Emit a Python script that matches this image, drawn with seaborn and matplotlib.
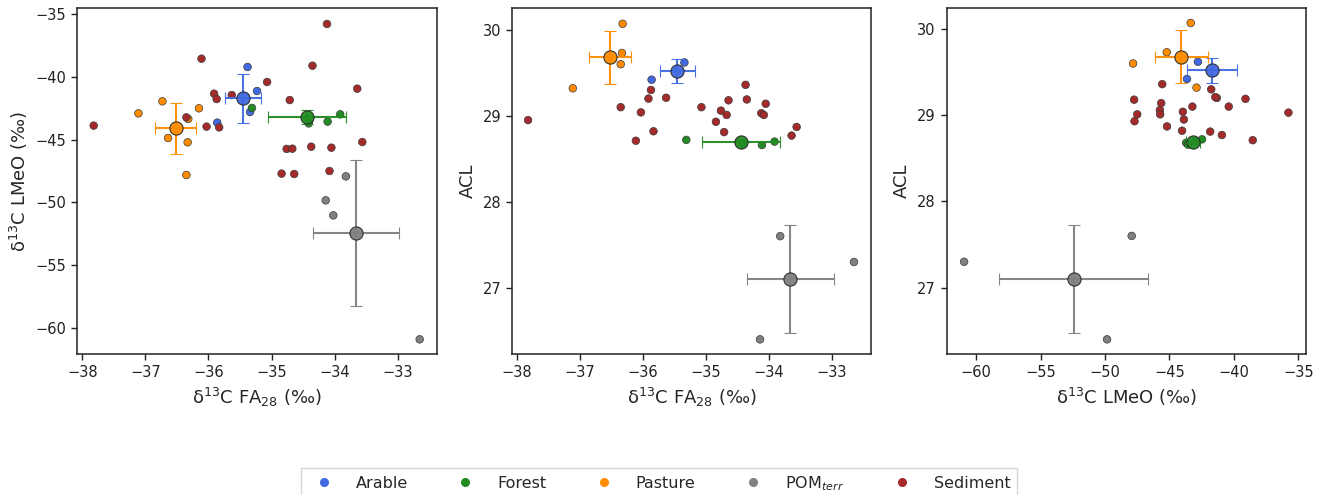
import numpy as np
import pandas as pd
import matplotlib
matplotlib.use("Agg")
import matplotlib.pyplot as plt
from matplotlib.lines import Line2D
import seaborn as sns

nan = np.nan

# ---------------- data ----------------
groups = ["Arable", "Forest", "Pasture", "POM$_{terr}$", "Sediment"]
colors = ["#4169E1", "#228B22", "#FF8C00", "#808080", "#A52A2A"]

arable_fa = [-35.38, -35.23, -35.86, -35.34]
arable_lmeo = [-39.20, -41.12, -43.64, -42.79]
arable_acl = [nan, nan, 29.42, 29.62]

forest_fa = [-35.31, -34.41, -34.11, -33.91]
forest_lmeo = [-42.47, -43.70, -43.56, -42.98]
forest_acl = [28.72, 28.68, 28.66, 28.70]

pasture_fa = [-36.73, -37.11, -36.15, -36.32, -36.64, -36.33, -36.35]
pasture_lmeo = [-41.94, -42.90, -42.50, -43.35, -44.87, -45.21, -47.82]
pasture_acl = [nan, 29.32, nan, 30.07, nan, 29.73, 29.60]

pom_fa = [-33.82, -34.14, -34.02, -32.65]
pom_lmeo = [-47.93, -49.84, -51.04, -60.93]
pom_acl = [27.60, 26.40, nan, 27.30]

sediment_fa = [-37.82, -36.35, -36.11, -36.03, -35.91, -35.87, -35.83, -35.63,
               -35.07, -34.84, -34.76, -34.71, -34.67, -34.64, -34.37, -34.35,
               -34.12, -34.08, -34.05, -33.64, -33.56]
sediment_lmeo = [-43.88, -43.22, -38.54, -43.96, -41.33, -41.76, -44.02, -41.44,
                 -40.40, -47.71, -45.74, -41.84, -45.72, -47.74, -45.56, -39.10,
                 -35.77, -47.50, -45.64, -40.93, -45.19]
sediment_acl = [28.95, 29.10, 28.71, 29.04, 29.20, 29.30, 28.82, 29.21,
                29.10, 28.93, 29.06, 28.81, 29.01, 29.18, 29.36, 29.19,
                29.03, 29.01, 29.14, 28.77, 28.87]

frames = []
for g, fa, lm, acl in zip(groups,
                          [arable_fa, forest_fa, pasture_fa, pom_fa, sediment_fa],
                          [arable_lmeo, forest_lmeo, pasture_lmeo, pom_lmeo, sediment_lmeo],
                          [arable_acl, forest_acl, pasture_acl, pom_acl, sediment_acl]):
    frames.append(pd.DataFrame({"type": g, "FA28": fa, "LMeO": lm, "ACL": acl}))
df = pd.concat(frames, ignore_index=True)
palette = dict(zip(groups, colors))

# ---------------- style ----------------
sns.set_style("ticks")
plt.rcParams["font.family"] = ["DejaVu Sans"]
plt.rcParams["mathtext.fontset"] = "dejavusans"

fig = plt.figure(figsize=(13.28, 4.95), dpi=100)
W, H = 1328, 495
def axrect(l, r, t, b):
    return [l / W, 1 - b / H, (r - l) / W, (b - t) / H]

ax1 = fig.add_axes(axrect(77.3, 436.7, 8.3, 354))
ax2 = fig.add_axes(axrect(512.3, 871, 8.3, 354))
ax3 = fig.add_axes(axrect(946.7, 1305.7, 8.3, 354))

lab_fa = r"δ$^{13}$C FA$_{28}$ (‰)"
lab_lm = r"δ$^{13}$C LMeO (‰)"

specs = [
    (ax1, "FA28", "LMeO", lab_fa, lab_lm, (-38.08, -32.38), (-62.1, -34.52)),
    (ax2, "FA28", "ACL", lab_fa, "ACL", (-38.07, -32.38), (26.23, 30.25)),
    (ax3, "LMeO", "ACL", lab_lm, "ACL", (-62.28, -34.43), (26.23, 30.24)),
]

means = df.groupby("type", sort=False)[["FA28", "LMeO", "ACL"]].mean()
stds = df.groupby("type", sort=False)[["FA28", "LMeO", "ACL"]].std()

for ax, xv, yv, xl, yl, xlim, ylim in specs:
    sns.scatterplot(data=df, x=xv, y=yv, hue="type", hue_order=groups,
                    palette=palette, s=30, edgecolor="#3a3a3a", linewidth=0.5,
                    legend=False, ax=ax, zorder=2)
    for g in groups[:-1]:
        c = palette[g]
        ax.errorbar(means.loc[g, xv], means.loc[g, yv],
                    xerr=stds.loc[g, xv], yerr=stds.loc[g, yv],
                    fmt="o", color=c, ecolor=c, elinewidth=1.5, capsize=4.5,
                    capthick=1.5, markersize=9.5, markeredgecolor="#2a2a2a",
                    markeredgewidth=0.8, zorder=3, alpha=0.95)
    ax.set_xlim(*xlim)
    ax.set_ylim(*ylim)
    ax.set_xlabel(xl, fontsize=13)
    ax.set_ylabel(yl, fontsize=13)
    ax.tick_params(labelsize=10.5, length=4.5, width=1, colors="#222222")
    for sp in ax.spines.values():
        sp.set_visible(True)
        sp.set_linewidth(1.1)
        sp.set_color("#222222")

ax1.set_yticks([-35, -40, -45, -50, -55, -60])
ax1.set_xticks([-38, -37, -36, -35, -34, -33])
ax2.set_xticks([-38, -37, -36, -35, -34, -33])
ax2.set_yticks([27, 28, 29, 30])
ax3.set_xticks([-60, -55, -50, -45, -40, -35])
ax3.set_yticks([27, 28, 29, 30])

handles = [Line2D([0], [0], marker="o", linestyle="", markersize=5.5,
                  markerfacecolor=c, markeredgecolor=c) for c in colors]
fig.legend(handles, groups, loc="upper center", ncol=5,
           bbox_to_anchor=(659 / W, 1 - 467.5 / H), fontsize=11.5,
           frameon=True, fancybox=False, edgecolor="#cccccc",
           handlelength=2.0, handletextpad=1.0, columnspacing=2.6,
           borderpad=0.4, borderaxespad=0)

fig.savefig("out.png", dpi=100)
